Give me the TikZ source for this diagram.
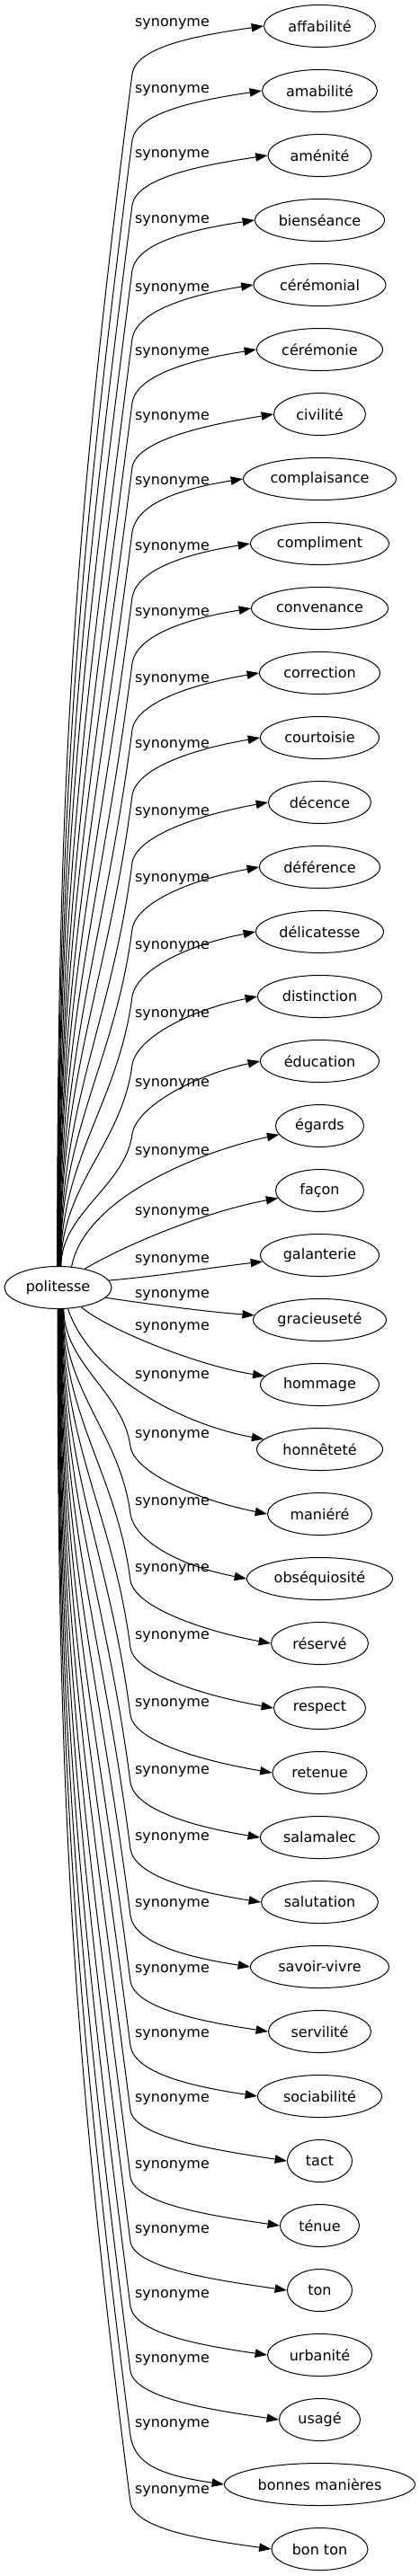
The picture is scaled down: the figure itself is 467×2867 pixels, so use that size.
\documentclass[tikz,border=0pt]{standalone}
\usepackage{fontspec}
\setmainfont{DejaVu Sans}
\usetikzlibrary{arrows.meta,shapes.geometric}

\tikzset{
  mot/.style={draw, ellipse, line width=0.75pt, inner sep=0pt,
              minimum height=35.25pt, font=\fontsize{12}{14}\selectfont},
  syn/.style={-{Triangle[length=10pt,width=7pt]}, line width=0.75pt},
  etiq/.style={inner sep=0pt, font=\fontsize{12}{14}\selectfont},
}

\begin{document}
\begin{tikzpicture}[x=0.75pt, y=0.75pt]
  \useasboundingbox (0,0) rectangle (467,-2867);
  % central word
  \node[mot, minimum width=89.25pt] (politesse) at (64.5,-1433) {politesse};
  % synonyms, one per row
  \foreach \mot/\w [count=\i from 0] in {affabilité/124, amabilité/128, aménité/115,
      bienséance/144, cérémonial/147, cérémonie/140, civilité/102, complaisance/170,
      compliment/154, convenance/152, correction/134, courtoisie/132, décence/114,
      déférence/134, délicatesse/142, distinction/138, éducation/132, égards/98,
      façon/98, galanterie/132, gracieuseté/148, hommage/132, honnêteté/140,
      maniéré/116, obséquiosité/162, réservé/108, respect/102, retenue/105,
      salamalec/132, salutation/130, savoir-vivre/154, servilité/114,
      sociabilité/138, tact/72, ténue/88, ton/72, urbanité/116, usagé/90,
      bonnes manières/212, bon ton/107} {
    \node[mot, minimum width={\w*0.75pt}] (t\i) at (355.5,{-29-72*\i}) {\mot};
  }
  % edges going up
  \foreach \ly [count=\i from 0] in {27,101,173,246,322,393,465,537,610,683,757,830,
      905,979,1054,1130,1207} {
    \pgfmathsetmacro{\ang}{92-0.6*\i}
    \pgfmathsetmacro{\bendy}{\ly+55}
    \pgfmathsetmacro{\rise}{1410-\bendy}
    \pgfmathsetmacro{\tgty}{29+72*\i}
    \pgfmathsetmacro{\shiftc}{0.2*(\bendy-\tgty)}
    \node[etiq] (s\i) at (191.5,-\ly) {synonyme};
    \draw[syn] (politesse.\ang) .. controls +(0,0.4*\rise) and +(-0.05*\rise,-0.39*\rise)
      .. (147,-\bendy) .. controls +(5,30) and +(-75,-\shiftc) .. (t\i.west);
  }
  % edges near the middle
  \node[etiq] (s17) at (191.5,-1283) {synonyme};
  \draw[syn] (politesse.57) .. controls (95,-1330) and (230,-1280) .. (t17);
  \node[etiq] (s18) at (191.5,-1350) {synonyme};
  \draw[syn] (politesse.35) .. controls (140,-1385) and (230,-1348) .. (t18);
  \node[etiq] (s19) at (191.5,-1403) {synonyme};
  \draw[syn] (politesse.8) .. controls (180,-1420) and (240,-1410) .. (t19);
  \node[etiq] (s20) at (191.5,-1442) {synonyme};
  \draw[syn] (politesse.-12) .. controls (170,-1452) and (230,-1460) .. (t20);
  \node[etiq] (s21) at (191.5,-1478) {synonyme};
  \draw[syn] (politesse.-40) .. controls (120,-1480) and (220,-1520) .. (t21);
  \node[etiq] (s22) at (191.5,-1532) {synonyme};
  \draw[syn] (politesse.-65) .. controls (100,-1530) and (200,-1585) .. (t22);
  % edges going down
  \foreach \ly [count=\i from 23] in {1598,1673,1747,1822,1897,1972,2046,2120,2193,
      2265,2337,2411,2483,2555,2627,2699,2773} {
    \pgfmathsetmacro{\ang}{-75-(\i-23)}
    \pgfmathsetmacro{\bendy}{\ly+12}
    \pgfmathsetmacro{\rise}{\bendy-1457}
    \pgfmathsetmacro{\tgty}{29+72*\i}
    \pgfmathsetmacro{\shiftc}{0.2*(\tgty-\bendy)}
    \node[etiq] (s\i) at (191.5,-\ly) {synonyme};
    \draw[syn] (politesse.\ang) .. controls +(0,-0.4*\rise) and +(-0.05*\rise,0.39*\rise)
      .. (145,-\bendy) .. controls +(5,-30) and +(-75,\shiftc) .. (t\i.west);
  }
\end{tikzpicture}
\end{document}
